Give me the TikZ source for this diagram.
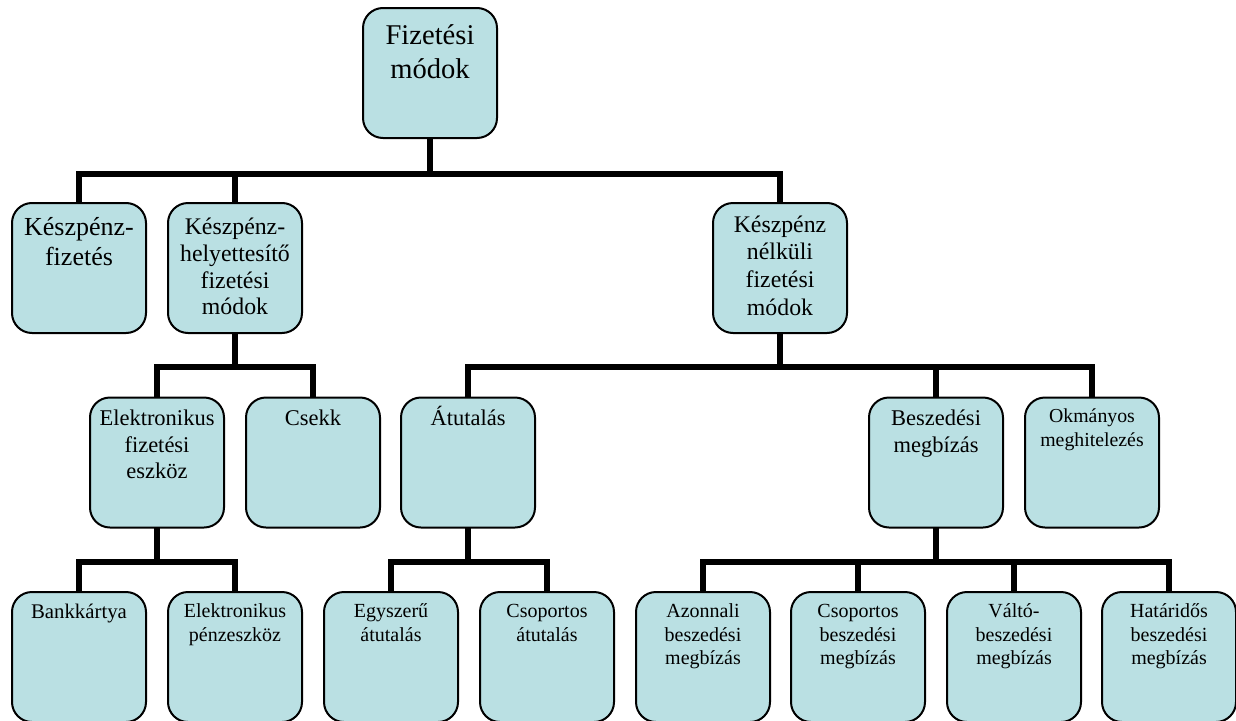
\documentclass[tikz,border=0pt]{standalone}
\usepackage{fontspec}
\setmainfont{Liberation Serif}
\usetikzlibrary{backgrounds}
\definecolor{boxfill}{RGB}{186,224,227}
\newcommand\fzR{\fontsize{28.6}{34}\selectfont}
\newcommand\fzKa{\fontsize{26}{30}\selectfont}
\newcommand\fzKb{\fontsize{23.8}{26.8}\selectfont}
\newcommand\fzKc{\fontsize{23.8}{27.7}\selectfont}
\newcommand\fzE{\fontsize{22.5}{26.3}\selectfont}
\newcommand\fzO{\fontsize{19.8}{23.4}\selectfont}
\newcommand\fzL{\fontsize{20}{23.5}\selectfont}
\newcommand\fzB{\fontsize{20.8}{24}\selectfont}
\begin{document}
\begin{tikzpicture}[x=1pt,y=-1pt,
  box/.style={draw=black, line width=2pt, fill=boxfill, rounded corners=20pt,
    minimum width=134pt, minimum height=130pt, inner sep=0pt, outer sep=0pt, anchor=north},
  txt/.style={anchor=base, align=center, text width=132pt, inner sep=0pt},
  conn/.style={line width=6pt, line cap=rect, line join=miter}]
\useasboundingbox (0,0) rectangle (1236,720);
% root
\node[box] (r) at (430,8) {};
\node[txt, font=\fzR] (rt) at (430,44) {Fizetési\\módok};
% level 1
\node[box] (k1) at (79,203) {};
\node[txt, font=\fzKa] (k1t) at (79,235) {Készpénz-\\fizetés};
\node[box] (k2) at (235,203) {};
\node[txt, font=\fzKb] (k2t) at (235,234.5) {Készpénz-\\helyettesítő\\fizetési\\módok};
\node[box] (k3) at (780,203) {};
\node[txt, font=\fzKc] (k3t) at (780,232) {Készpénz\\nélküli\\fizetési\\módok};
% level 2
\node[box] (e1) at (157,397.5) {};
\node[txt, font=\fzE] (e1t) at (157,425.7) {Elektronikus\\fizetési\\eszköz};
\node[box] (e2) at (313,397.5) {};
\node[txt, font=\fzE] (e2t) at (313,425.7) {Csekk};
\node[box] (e3) at (468,397.5) {};
\node[txt, font=\fzE] (e3t) at (468,425.7) {Átutalás};
\node[box] (e4) at (936,397.5) {};
\node[txt, font=\fzE] (e4t) at (936,425.7) {Beszedési\\megbízás};
\node[box] (e5) at (1092,397.5) {};
\node[txt, font=\fzO] (e5t) at (1092,422.7) {Okmányos\\meghitelezés};
% level 3
\node[box] (l1) at (79,592) {};
\node[txt, font=\fzB] (l1t) at (79,618) {Bankkártya};
\node[box] (l2) at (235,592) {};
\node[txt, font=\fzL] (l2t) at (235,617.5) {Elektronikus\\pénzeszköz};
\node[box] (l3) at (391,592) {};
\node[txt, font=\fzL] (l3t) at (391,617.5) {Egyszerű\\átutalás};
\node[box] (l4) at (547,592) {};
\node[txt, font=\fzL] (l4t) at (547,617.5) {Csoportos\\átutalás};
\node[box] (l5) at (703,592) {};
\node[txt, font=\fzL] (l5t) at (703,617.5) {Azonnali\\beszedési\\megbízás};
\node[box] (l6) at (858,592) {};
\node[txt, font=\fzL] (l6t) at (858,617.5) {Csoportos\\beszedési\\megbízás};
\node[box] (l7) at (1014,592) {};
\node[txt, font=\fzL] (l7t) at (1014,617.5) {Váltó-\\beszedési\\megbízás};
\node[box] (l8) at (1169,592) {};
\node[txt, font=\fzL] (l8t) at (1169,617.5) {Határidős\\beszedési\\megbízás};
% bar coordinates
\coordinate (rb) at (430,173.5);
\coordinate (k2b) at (235,367);
\coordinate (k3b) at (780,367);
\coordinate (e1b) at (157,562);
\coordinate (e3b) at (468,562);
\coordinate (e4b) at (936,562);
\begin{scope}[on background layer]
  \draw[conn] (r.south) -- (rb);
  \foreach \c in {k1,k2,k3} \draw[conn] (\c.north) |- (rb);
  \draw[conn] (k2.south) -- (k2b);
  \foreach \c in {e1,e2} \draw[conn] (\c.north) |- (k2b);
  \draw[conn] (k3.south) -- (k3b);
  \foreach \c in {e3,e4,e5} \draw[conn] (\c.north) |- (k3b);
  \draw[conn] (e1.south) -- (e1b);
  \foreach \c in {l1,l2} \draw[conn] (\c.north) |- (e1b);
  \draw[conn] (e3.south) -- (e3b);
  \foreach \c in {l3,l4} \draw[conn] (\c.north) |- (e3b);
  \draw[conn] (e4.south) -- (e4b);
  \foreach \c in {l5,l6,l7,l8} \draw[conn] (\c.north) |- (e4b);
\end{scope}
\end{tikzpicture}
\end{document}
